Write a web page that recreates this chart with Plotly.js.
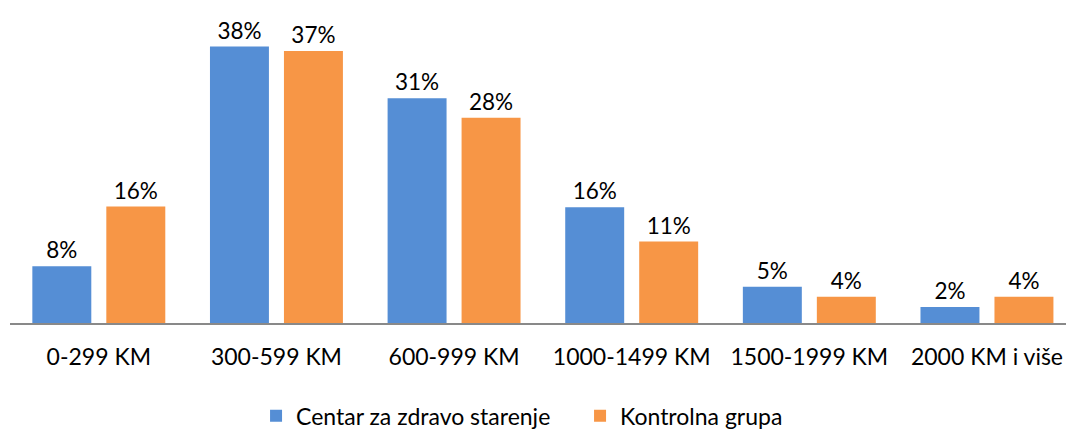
<!DOCTYPE html>
<html>
<head>
<meta charset="utf-8">
<script src="https://cdn.plot.ly/plotly-3.0.1.min.js"></script>
<style>html,body{margin:0;padding:0;background:#fff;}#chart{width:1066px;height:429px;}</style>
</head>
<body>
<div id="chart"></div>
<script>
const categories = ["0-299 KM", "300-599 KM", "600-999 KM", "1000-1499 KM", "1500-1999 KM", "2000 KM i više"];
const seriesNames = ["Centar za zdravo starenje", "Kontrolna grupa"];
const centarValues = [7.8, 38.0, 30.9, 15.9, 5.0, 2.2];
const kontrolnaValues = [16.0, 37.4, 28.2, 11.2, 3.6, 3.6];
const colors = ["#558ED5", "#F79646"];

const fontFamily = "Lato, 'Noto Sans', sans-serif";

const traces = [centarValues, kontrolnaValues].map((vals, i) => ({
  type: "bar",
  name: seriesNames[i],
  x: categories,
  y: vals,
  marker: {color: colors[i]},
  texttemplate: "%{y:.0f}%",
  textposition: "outside",
  cliponaxis: false,
  textfont: {family: fontFamily, size: 22.5, color: "#000"},
  hoverinfo: "x+y"
}));

const layout = {
  width: 1066,
  height: 429,
  margin: {l: 10, r: 0, t: 32, b: 106, autoexpand: false},
  paper_bgcolor: "#fff",
  plot_bgcolor: "#fff",
  barmode: "group",
  bargap: 0.167,
  bargroupgap: 0.203,
  font: {family: fontFamily, size: 23, color: "#000"},
  xaxis: {
    type: "category",
    range: [-0.5, 5.445],
    showline: true,
    linecolor: "#898989",
    linewidth: 1.5,
    ticks: "",
    ticklabelstandoff: 13,
    tickfont: {family: fontFamily, size: 23, color: "#000"},
    showgrid: false,
    zeroline: false,
    fixedrange: true
  },
  yaxis: {
    range: [0, 40],
    visible: false,
    showgrid: false,
    zeroline: false,
    fixedrange: true
  },
  showlegend: true,
  legend: {
    orientation: "h",
    x: 0.233,
    xanchor: "left",
    y: -0.245,
    yanchor: "top",
    entrywidth: 279,
    entrywidthmode: "pixels",
    font: {family: fontFamily, size: 23, color: "#000"},
    bgcolor: "rgba(0,0,0,0)"
  }
};

Plotly.newPlot("chart", traces, layout, {displayModeBar: false, staticPlot: true});
</script>
</body>
</html>
